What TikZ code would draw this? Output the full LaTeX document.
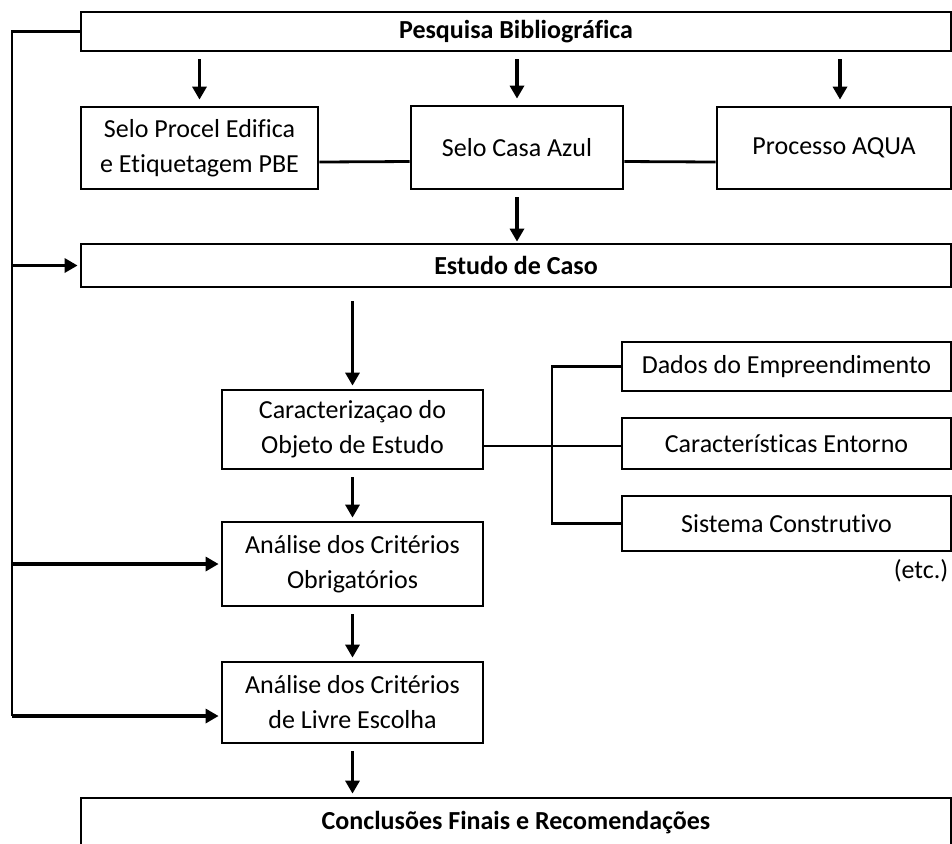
\documentclass[tikz,border=0pt]{standalone}
\usepackage{fontspec}
\setmainfont{Carlito}[Ligatures={NoCommon,NoContextual}]
\usetikzlibrary{arrows.meta}
\begin{document}
\begin{tikzpicture}[x=0.5pt,y=-0.5pt,line width=1.4pt,
    caixa/.style={draw,rectangle,inner sep=0pt,align=center,font=\fontsize{13}{17.5}\selectfont},
    faixa/.style={caixa,minimum width=435pt,font=\fontsize{13}{17.5}\selectfont\bfseries},
    seta/.style={-{Triangle[width=7pt,length=6.5pt]},line width=1.6pt,shorten <=3.5pt,shorten >=1.5pt}]
                    \useasboundingbox (0,0) rectangle (952,843);
                    \node (pesq) at (516,31.5) [faixa,minimum height=19.5pt] {Pesquisa Bibliográfica};
                    \node (procel) at (199.5,148) [caixa,minimum width=118.5pt,minimum height=41pt] {Selo Procel Edifica\\e Etiquetagem PBE};
                    \node (azul) at (517,147.5) [caixa,minimum width=106pt,minimum height=41.5pt] {Selo Casa Azul};
                    \node (aqua) at (834,148) [caixa,minimum width=117pt,minimum height=41pt] {Processo AQUA};
                    \node (estudo) at (516,265.5) [faixa,minimum height=21.5pt] {Estudo de Caso};
                    \node (caract) at (352.5,429.5) [caixa,minimum width=130.5pt,minimum height=39.5pt] {Caracterizaçao do\\Objeto de Estudo};
                    \node (obrig) at (352.5,564) [caixa,minimum width=130.5pt,minimum height=42pt] {Análise dos Critérios\\Obrigatórios};
                    \node (livre) at (352.5,702.5) [caixa,minimum width=130.5pt,minimum height=40.5pt] {Análise dos Critérios\\de Livre Escolha};
                    \node (concl) at (516,823) [faixa,minimum height=25pt] {Conclusões Finais e Recomendações};
                    \node (dados) at (786.5,366.5) [caixa,minimum width=164.5pt,minimum height=24.5pt] {Dados do Empreendimento};
                    \node (entorno) at (786.5,443.5) [caixa,minimum width=164.5pt,minimum height=25.5pt] {Características Entorno};
                    \node (sistema) at (786.5,523.5) [caixa,minimum width=164.5pt,minimum height=27.5pt] {Sistema Construtivo};
                    \node (etc) at (921,571) [font=\fontsize{13}{17.5}\selectfont] {(etc.)};
                    % fluxo principal
                    \draw[seta,shorten >=3pt] (procel.north |- pesq.south) -- (procel.north);
                    \draw[seta,shorten >=3pt] (azul.north |- pesq.south) -- (azul.north);
                    \draw[seta,shorten >=3pt] ([xshift=3pt]aqua.north |- pesq.south) -- ([xshift=3pt]aqua.north);
                    \draw[seta,shorten >=0.5pt] (azul.south) -- (azul.south |- estudo.north);
                    \draw[seta,shorten <=6.5pt] (caract.north |- estudo.south) -- (caract.north);
                    \draw[seta] (caract.south) -- (obrig.north);
                    \draw[seta] (obrig.south) -- (livre.north);
                    \draw[seta] (livre.south) -- (livre.south |- concl.north);
                    % ligacoes entre selos
                    \draw ([yshift=-7pt]procel.east) -- ([yshift=-7pt]azul.west);
                    \draw ([yshift=-7pt]azul.east) -- ([yshift=-7pt]aqua.west);
                    % retorno a esquerda
                    \coordinate (esq) at (12,31.5);
                    \coordinate (livrein) at ([yshift=-6.75pt]livre.west);
                    \draw (pesq.west) -- (esq) -- (esq |- livrein);
                    \draw[seta,shorten <=0pt,shorten >=1pt] (esq |- estudo.west) -- (estudo.west);
                    \draw[seta,shorten <=0pt,shorten >=1pt] (esq |- obrig.west) -- (obrig.west);
                    \draw[seta,shorten <=0pt,shorten >=1pt] (esq |- livrein) -- (livrein);
                    % detalhes do objeto
                    \coordinate (ramo) at (552,446);
                    \draw ([yshift=-8.25pt]caract.east) -- (ramo) -- (ramo -| entorno.west);
                    \draw (dados.west) -| (ramo) |- (sistema.west);
                \end{tikzpicture}
\end{document}
